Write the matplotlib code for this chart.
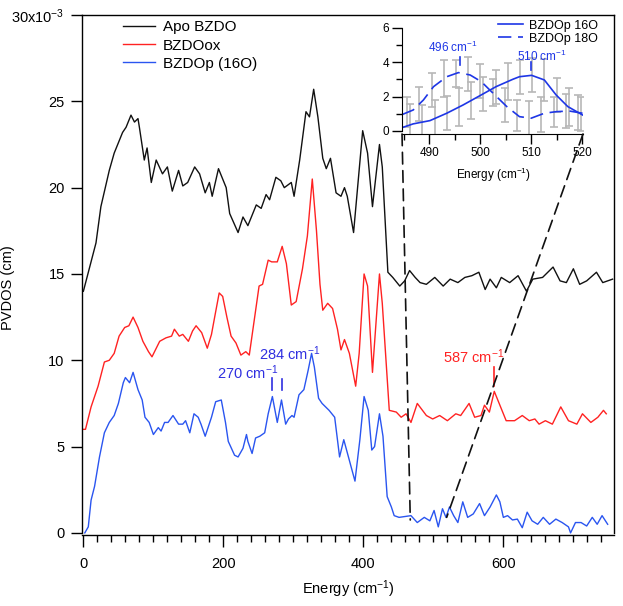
import numpy as np
import matplotlib
matplotlib.use("Agg")
import matplotlib.pyplot as plt
from matplotlib.patches import ConnectionPatch
from matplotlib.ticker import MultipleLocator, FixedLocator, FixedFormatter

plt.rcParams['font.family'] = ['Liberation Sans', 'DejaVu Sans']
plt.rcParams['mathtext.fontset'] = 'custom'
plt.rcParams['mathtext.rm'] = 'Liberation Sans'
plt.rcParams['mathtext.it'] = 'Liberation Sans:italic'
plt.rcParams['mathtext.bf'] = 'Liberation Sans:bold'

# ---- main spectra (energy in cm-1, PVDOS x1e3, already offset) ----
apo_x = [0, 9, 18, 25, 37, 44, 56, 61, 68, 73, 78, 80, 87, 91, 97, 104, 113, 120, 127, 136,
         142, 149, 159, 166, 174, 180, 184, 193, 204, 209, 221, 228, 235, 247, 254, 261, 266,
         275, 282, 287, 297, 301, 309, 318, 323, 329, 335, 342, 347, 353, 361, 368, 373, 377,
         386, 399, 406, 413, 423, 427, 435, 442, 452, 459, 466, 474, 481, 490, 502, 514, 524,
         535, 545, 555, 565, 574, 581, 590, 597, 609, 621, 633, 642, 656, 671, 681, 690, 700,
         709, 719, 733, 742, 756]
apo_y = [14.0, 15.4, 16.8, 18.9, 21.0, 22.0, 23.2, 23.5, 24.2, 23.8, 24.0, 23.5, 21.6, 22.3,
         20.3, 21.6, 20.8, 21.2, 19.8, 21.0, 20.1, 20.3, 21.2, 20.8, 19.7, 20.3, 19.5, 21.1,
         20.0, 18.5, 17.4, 18.3, 17.8, 19.0, 18.8, 19.6, 19.3, 20.6, 20.4, 20.0, 20.3, 19.5,
         21.6, 24.4, 24.1, 25.7, 24.1, 21.7, 21.1, 21.7, 19.7, 19.5, 20.0, 19.5, 17.4, 23.3,
         22.0, 18.9, 22.5, 21.2, 15.1, 14.8, 14.3, 14.6, 15.2, 14.8, 14.5, 14.4, 14.8, 14.3,
         14.7, 14.5, 14.8, 14.9, 15.1, 14.1, 14.7, 14.2, 14.8, 14.5, 14.9, 14.0, 14.7, 14.8,
         15.4, 14.6, 14.5, 15.3, 14.4, 14.6, 15.1, 14.5, 14.7]

ox_x = [0, 3, 11, 21, 30, 37, 44, 51, 59, 65, 71, 78, 85, 93, 98, 109, 118, 126, 130, 137,
        142, 150, 156, 161, 169, 177, 183, 188, 194, 199, 205, 211, 218, 225, 232, 237, 244,
        251, 256, 264, 269, 277, 284, 290, 297, 304, 313, 320, 327, 333, 338, 342, 349, 356,
        363, 368, 373, 380, 389, 394, 401, 406, 413, 423, 427, 437, 447, 454, 461, 468, 477,
        490, 499, 509, 520, 532, 539, 551, 559, 568, 573, 580, 587, 594, 604, 616, 627, 637,
        645, 651, 660, 670, 682, 693, 705, 713, 725, 735, 743, 747]
ox_y = [6.0, 6.0, 7.3, 8.5, 9.9, 10.0, 10.4, 11.4, 11.9, 12.0, 12.5, 11.9, 11.1, 10.5, 10.2,
        11.1, 11.3, 11.4, 11.8, 11.4, 11.5, 11.1, 11.7, 12.0, 11.6, 10.7, 11.5, 12.6, 13.9,
        13.7, 12.5, 11.4, 11.0, 10.3, 10.5, 10.3, 12.3, 14.3, 14.4, 15.8, 15.7, 15.7, 16.6,
        15.6, 13.2, 13.4, 15.3, 17.2, 20.5, 17.5, 14.4, 12.9, 13.3, 13.0, 11.8, 10.6, 11.2,
        10.4, 8.5, 10.4, 15.0, 14.3, 9.3, 15.0, 13.3, 7.1, 7.0, 6.7, 6.9, 6.4, 7.5, 6.8, 6.6,
        6.8, 6.5, 6.9, 6.8, 7.5, 6.7, 6.8, 7.4, 7.0, 8.2, 7.5, 6.5, 6.5, 6.8, 6.5, 6.6, 6.3,
        6.5, 6.3, 7.3, 6.5, 6.3, 6.9, 6.4, 6.7, 7.1, 6.9]

p16_x = [2, 7, 11, 16, 23, 30, 37, 44, 50, 57, 60, 66, 71, 78, 84, 88, 94, 100, 107, 111,
         116, 121, 128, 136, 142, 146, 152, 158, 164, 168, 174, 183, 189, 197, 203, 207, 216,
         221, 228, 233, 235, 241, 246, 252, 259, 264, 270, 277, 283, 289, 293, 298, 301, 308,
         315, 321, 326, 330, 336, 341, 351, 359, 366, 372, 378, 388, 395, 401, 407, 412, 416,
         423, 428, 434, 440, 444, 451, 468, 477, 487, 495, 501, 507, 513, 518, 523, 529, 535,
         542, 549, 557, 566, 573, 581, 590, 595, 600, 606, 613, 620, 627, 634, 641, 649, 657,
         666, 675, 684, 693, 696, 703, 711, 719, 727, 734, 741, 749]
p16_y = [0.0, 0.35, 1.9, 2.7, 4.4, 5.8, 6.4, 6.8, 7.5, 8.7, 9.0, 8.7, 9.3, 8.3, 7.7, 6.7, 6.4,
         5.7, 6.1, 5.9, 6.4, 6.4, 6.8, 6.3, 6.3, 6.5, 5.8, 6.9, 6.7, 6.3, 5.6, 6.7, 7.6, 7.7,
         6.4, 5.3, 4.5, 4.4, 4.9, 5.7, 5.3, 4.6, 5.5, 5.6, 5.8, 6.9, 7.9, 6.4, 7.7, 6.3, 6.6,
         6.8, 6.7, 8.0, 8.3, 9.4, 10.4, 9.6, 7.8, 7.5, 7.1, 6.7, 4.4, 5.4, 4.5, 3.0, 5.4, 7.9,
         7.1, 4.8, 5.0, 6.9, 5.6, 2.1, 1.5, 1.0, 0.9, 1.0, 0.6, 0.9, 0.7, 1.3, 0.35, 1.4, 0.9,
         1.5, 1.0, 0.6, 1.8, 0.9, 1.1, 1.7, 1.0, 1.5, 2.2, 1.8, 0.9, 1.0, 0.75, 0.8, 0.3, 1.2,
         0.7, 0.5, 0.9, 0.5, 0.8, 0.6, 0.35, 0.0, 0.6, 0.6, 0.4, 0.9, 0.5, 1.0, 0.5]

series_labels = ['Apo BZDO', 'BZDOox', 'BZDOp (16O)']
y_ticks = [0, 5, 10, 15, 20, 25, 30]
y_ticklabels = ['0', '5', '10', '15', '20', '25', '30x10$^{-3}$']

# peak marks on the main panel: (x, y_bottom, y_top)
blue_marks = [(270, 8.3, 9.0), (284, 8.3, 8.9)]
red_mark = (587, 8.5, 9.6)

# ---- inset: 16O vs 18O around 500 cm-1 ----
in16_x = [484.6, 486.8, 490.1, 493.4, 496.6, 500.2, 503.1, 506.4, 507.7, 510.1, 512.6, 514.9, 517.2, 520.1]
in16_y = [0.19, 0.41, 0.60, 1.03, 1.51, 2.10, 2.58, 3.01, 3.16, 3.24, 2.97, 2.10, 1.42, 0.93]
in18_x = [484.6, 486.8, 488.8, 490.8, 493.4, 495.7, 498.0, 500.2, 502.5, 505.2, 507.7, 510.0, 512.6, 514.9, 517.5, 520.1]
in18_y = [0.95, 1.22, 1.80, 2.58, 3.16, 3.40, 3.26, 2.87, 2.20, 1.42, 0.83, 0.74, 1.03, 1.12, 1.16, 1.03]

bar16_x = [486.2, 488.6, 491.0, 493.4, 495.8, 498.2, 500.6, 503.0, 505.4, 507.8, 510.2, 512.6, 515.0, 517.4, 519.8]
bar16_y = [0.35, 0.52, 0.70, 1.03, 1.40, 1.78, 2.16, 2.56, 2.88, 3.16, 3.24, 2.97, 2.08, 1.38, 0.97]
bar16_e = [1.2, 1.0, 1.1, 1.0, 1.1, 1.1, 1.0, 1.0, 1.1, 1.0, 1.0, 1.2, 1.0, 1.1, 1.0]
bar18_x = [485.6, 488.0, 490.4, 492.8, 495.2, 497.6, 500.0, 502.4, 504.8, 507.2, 509.6, 512.0, 514.4, 516.8, 519.2]
bar18_y = [1.10, 1.55, 2.40, 3.05, 3.35, 3.30, 2.90, 2.25, 1.50, 0.92, 0.75, 0.95, 1.10, 1.15, 1.08]
bar18_e = [0.9, 1.0, 1.0, 1.1, 0.8, 1.0, 1.0, 0.8, 1.0, 0.9, 1.0, 1.0, 0.9, 1.0, 1.0]

inset_labels = ['BZDOp 16O', 'BZDOp 18O']
inset_marks = [(496, 3.84, 4.31, '496 cm$^{-1}$', 494.6, 4.85),
               (510, 3.55, 4.00, '510 cm$^{-1}$', 512.2, 4.33)]

BLACK = '#111111'
RED = '#ff2222'
BLUE = '#2a55f0'
TXTBLUE = '#2f2fe0'
INBLUE = '#1e36e6'

fig = plt.figure(figsize=(6.23, 6.06), dpi=100)
ax = fig.add_axes([0.1316, 0.1172, 0.8539, 0.858])

l1, = ax.plot(apo_x, apo_y, color=BLACK, lw=1.0)
l2, = ax.plot(ox_x, ox_y, color=RED, lw=1.0)
l3, = ax.plot(p16_x, p16_y, color=BLUE, lw=1.0)

ax.set_xlim(-2, 758)
ax.set_ylim(-0.12, 30)
ax.spines['left'].set_bounds(0, 30)
ax.spines['right'].set_bounds(0, 30)
for s in ax.spines.values():
    s.set_linewidth(1.0)

ax.xaxis.set_major_locator(MultipleLocator(200))
ax.xaxis.set_minor_locator(MultipleLocator(20))
ax.yaxis.set_major_locator(FixedLocator(y_ticks))
ax.yaxis.set_major_formatter(FixedFormatter(y_ticklabels))
ax.tick_params(axis='x', which='major', direction='out', length=8.6, width=1.0, pad=7, labelsize=10.5)
ax.tick_params(axis='x', which='minor', direction='out', length=5, width=1.0)
ax.tick_params(axis='y', which='major', direction='out', length=8, width=1.0, pad=4.5, labelsize=10.5)
ax.tick_params(top=False, right=False)

ax.set_xlabel('Energy (cm$^{-1}$)', fontsize=10.5)
ax.xaxis.set_label_coords(0.5, -0.084)
ax.set_ylabel('PVDOS (cm)', fontsize=10.5)
ax.yaxis.set_label_coords(-0.126, 0.475)

ax.legend([l1, l2, l3], series_labels, loc='upper left', bbox_to_anchor=(0.077, 0.99),
          frameon=False, fontsize=11, handlelength=2.1, handletextpad=0.5,
          labelspacing=0.28, borderpad=0, borderaxespad=0)

for mx, y0, y1 in blue_marks:
    ax.plot([mx, mx], [y0, y1], color=TXTBLUE, lw=1.2)
ax.text(234, 9.3, '270 cm$^{-1}$', color=TXTBLUE, fontsize=10.5, ha='center', va='center')
ax.text(294, 10.4, '284 cm$^{-1}$', color=TXTBLUE, fontsize=10.5, ha='center', va='center')
ax.plot([red_mark[0]] * 2, [red_mark[1], red_mark[2]], color=RED, lw=1.2)
ax.text(558, 10.2, '587 cm$^{-1}$', color=RED, fontsize=10.5, ha='center', va='center')

# ---- inset ----
ins = fig.add_axes([0.6453, 0.7789, 0.2905, 0.1749])
ins.patch.set_alpha(0)
ins.errorbar(bar18_x, bar18_y, yerr=bar18_e, fmt='none', ecolor='#b8b8b8', elinewidth=1.2,
             capsize=3.2, capthick=1.2)
ins.errorbar(bar16_x, bar16_y, yerr=bar16_e, fmt='none', ecolor='#b8b8b8', elinewidth=1.2,
             capsize=3.2, capthick=1.2)
i1, = ins.plot(in16_x, in16_y, color=INBLUE, lw=1.2)
i2, = ins.plot(in18_x, in18_y, color=INBLUE, lw=1.2, linestyle=(0, (8, 4)))
ins.set_xlim(484.6, 520.2)
ins.set_ylim(-0.18, 6.0)
ins.spines['top'].set_visible(False)
ins.spines['right'].set_visible(False)
ins.spines['left'].set_bounds(0, 6)
ins.xaxis.set_major_locator(MultipleLocator(10))
ins.xaxis.set_minor_locator(MultipleLocator(5))
ins.yaxis.set_major_locator(MultipleLocator(2))
ins.yaxis.set_minor_locator(MultipleLocator(1))
ins.tick_params(which='major', direction='out', length=7, width=1.0, pad=2.5, labelsize=8.5)
ins.tick_params(which='minor', direction='out', length=4.5, width=1.0)
ins.set_xlabel('Energy (cm$^{-1}$)', fontsize=8.5)
ins.xaxis.set_label_coords(0.508, -0.3)
ins.legend([i1, i2], inset_labels, loc='upper left', bbox_to_anchor=(0.53, 1.08),
           frameon=False, fontsize=9, handlelength=2.0, handletextpad=0.45,
           labelspacing=0.1, borderpad=0, borderaxespad=0)
for mx, y0, y1, lab, tx, ty in inset_marks:
    ins.plot([mx, mx], [y0, y1], color=INBLUE, lw=1.2)
    ins.text(tx, ty, lab, color=INBLUE, fontsize=8.5, ha='center', va='center')

# dashed connectors from the inset down to the main axis
for xa, xb, yb in [(0, 467, 0.75), (1, 519, 0.9)]:
    con = ConnectionPatch(xyA=(xa, 0), coordsA=ins.transAxes, xyB=(xb, yb), coordsB=ax.transData,
                          color=BLACK, lw=1.2, linestyle=(0, (7, 4)))
    fig.add_artist(con)

fig.savefig('out.png', dpi=100)
